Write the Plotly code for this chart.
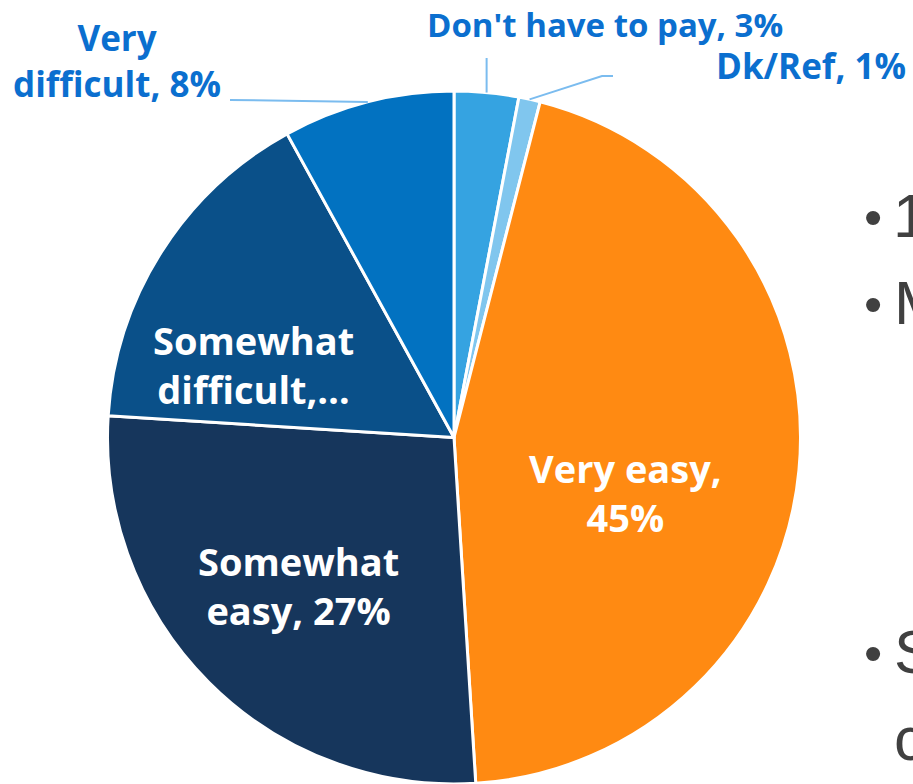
import math
import plotly.graph_objects as go

# ---- data ----
labels = ["Don't have to pay", "Dk/Ref", "Very easy", "Somewhat easy",
          "Somewhat difficult", "Very difficult"]
values = [3, 1, 45, 27, 16, 8]
colors = ["#35A3E1", "#80C6EE", "#FF8A12", "#16365C", "#0A5089", "#0272C1"]

inside_texts = {
    "Very easy": "Very easy,<br>45%",
    "Somewhat easy": "Somewhat<br>easy, 27%",
    "Somewhat difficult": "Somewhat<br>difficult,…",
}
outside_texts = {
    "Very difficult": "Very<br>difficult, 8%",
    "Don't have to pay": "Don't have to pay, 3%",
    "Dk/Ref": "Dk/Ref, 1%",
}
side_letters = ["1", "M", "S", "c"]
side_has_bullet = [True, True, True, False]

W, H = 913, 784
cx, cy, R = 454, 437.5, 346.5  # pie centre / radius in pixels

fig = go.Figure(go.Pie(
    labels=labels, values=values, sort=False, direction="clockwise",
    rotation=0, textinfo="none", hoverinfo="label+percent",
    marker=dict(colors=colors, line=dict(color="white", width=3)),
    domain=dict(x=[(cx - R) / W, (cx + R) / W], y=[0, 1 - (cy - R) / H]),
    showlegend=False,
))

def px(x):
    return x / W

def py(y):
    return 1 - y / H

anns = []
# inside labels
in_pos = {"Very easy": (625, 492), "Somewhat easy": (298, 585),
          "Somewhat difficult": (254, 364)}
for k, t in inside_texts.items():
    x, y = in_pos[k]
    anns.append(dict(x=px(x), y=py(y), xref="paper", yref="paper", text=t,
                     showarrow=False, xanchor="center", yanchor="middle",
                     font=dict(family="Open Sans", size=38, color="white", weight="bold")))

# outside labels
out_pos = {"Very difficult": (117, 60, 35),
           "Don't have to pay": (605, 25, 33),
           "Dk/Ref": (811, 65, 35)}
for k, t in outside_texts.items():
    x, y, s = out_pos[k]
    anns.append(dict(x=px(x), y=py(y), xref="paper", yref="paper", text=t,
                     showarrow=False, xanchor="center", yanchor="middle",
                     font=dict(family="Open Sans", size=s, color="#0B6FCF", weight="bold")))

# leader lines computed from slice mid-angles
total = sum(values)
cum = 0
mids = {}
for l, v in zip(labels, values):
    mids[l] = (cum + v / 2) / total * 2 * math.pi
    cum += v

def edge(l):
    a = mids[l]
    return cx + R * math.sin(a), cy - R * math.cos(a)

shapes = []
lc = dict(color="#7BBCEF", width=2)
ex, ey = edge("Don't have to pay")
shapes.append(dict(type="line", xref="paper", yref="paper",
                   x0=px(ex), y0=py(ey), x1=px(ex), y1=py(58), line=lc))
ex, ey = edge("Dk/Ref")
shapes.append(dict(type="path", xref="paper", yref="paper",
                   path=f"M {px(ex)} {py(ey)} L {px(602)} {py(76)} L {px(613)} {py(76)}",
                   line=lc))
ex, ey = edge("Very difficult")
shapes.append(dict(type="line", xref="paper", yref="paper",
                   x0=px(ex), y0=py(ey), x1=px(230), y1=py(100), line=lc))

# partially visible slide bullets on the right (cut off by the slide crop)
letter_x = [891, 892, 892, 892]
letter_y = [215, 302, 651, 738]
for t, b, lx, ly in zip(side_letters, side_has_bullet, letter_x, letter_y):
    if b:
        anns.append(dict(x=px(873), y=py(ly + 2), xref="paper", yref="paper", text="•",
                         showarrow=False, xanchor="center", yanchor="middle",
                         font=dict(family="Liberation Sans", size=52, color="#404040")))
    anns.append(dict(x=px(lx), y=py(ly), xref="paper", yref="paper", text=t,
                     showarrow=False, xanchor="left", yanchor="middle",
                     font=dict(family="Liberation Sans", size=62, color="#404040")))

fig.update_layout(width=W, height=H, margin=dict(l=0, r=0, t=0, b=0),
                  paper_bgcolor="white", plot_bgcolor="white",
                  annotations=anns, shapes=shapes)
fig.write_html("out.html", config={"displayModeBar": False},
               post_script="document.body.style.margin='0';")
